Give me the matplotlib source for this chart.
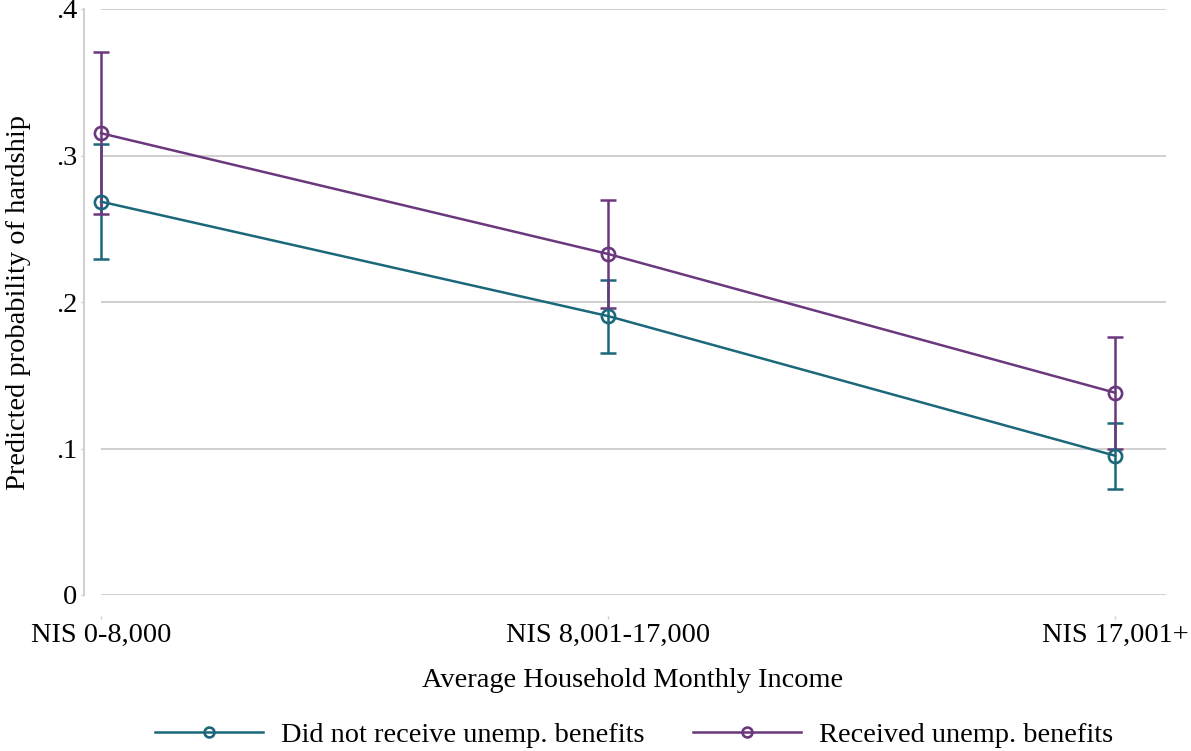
import matplotlib.pyplot as plt
import numpy as np

plt.rcParams["font.family"] = ["Liberation Serif", "DejaVu Serif"]

income_groups = ["NIS 0-8,000", "NIS 8,001-17,000", "NIS 17,001+"]
x = np.array([1, 2, 3])

# predicted probabilities with 95% CI bounds
no_benefit = np.array([0.2685, 0.1904, 0.0951])
no_benefit_lo = np.array([0.2292, 0.1652, 0.0722])
no_benefit_hi = np.array([0.3076, 0.2150, 0.1176])

benefit = np.array([0.3152, 0.2328, 0.1381])
benefit_lo = np.array([0.2600, 0.1957, 0.0998])
benefit_hi = np.array([0.3704, 0.2696, 0.1759])

yticks = [0, 0.1, 0.2, 0.3, 0.4]
ytick_labels = ["0", ".1", ".2", ".3", ".4"]

color_no = "#1b687a"
color_yes = "#6b387e"
grid_color = "#cccccc"
font_size = 20.4

fig = plt.figure(figsize=(11.91, 7.51), dpi=100)
ax = fig.add_axes([84 / 1191, 1 - 595 / 751, (1166 - 84) / 1191, (595 - 9) / 751])

ax.set_xlim(1 - 17 / 507, 3 + 51 / 507)
ax.set_ylim(0, 0.4)

# gridlines only span the data range on x
ax.hlines(yticks, 1, ax.get_xlim()[1], color=grid_color, lw=1.3, zorder=0)

for y, lo, hi, c in [(no_benefit, no_benefit_lo, no_benefit_hi, color_no),
                     (benefit, benefit_lo, benefit_hi, color_yes)]:
    ax.errorbar(x, y, yerr=[y - lo, hi - y], fmt="none", ecolor=c,
                elinewidth=1.8, capsize=5.6, capthick=1.8, zorder=2)

ax.plot(x, no_benefit, color=color_no, lw=1.8, marker="o", ms=9.5,
        mfc="none", mec=color_no, mew=1.9, zorder=3,
        label="Did not receive unemp. benefits")
ax.plot(x, benefit, color=color_yes, lw=1.8, marker="o", ms=9.5,
        mfc="none", mec=color_yes, mew=1.9, zorder=3,
        label="Received unemp. benefits")

ax.set_yticks(yticks)
ax.set_yticklabels(ytick_labels)
ax.set_xticks(x)
ax.set_xticklabels(income_groups)

for side in ["top", "right"]:
    ax.spines[side].set_visible(False)
ax.spines["left"].set_color(grid_color)
ax.spines["left"].set_linewidth(1.3)
ax.spines["bottom"].set_position(("outward", 15))
ax.spines["bottom"].set_color("none")

ax.tick_params("y", length=2, width=1, color=grid_color, pad=3,
               labelsize=font_size)
ax.tick_params("x", length=2, width=1, color=grid_color, pad=3,
               labelsize=font_size)

ax.set_xlabel("Average Household Monthly Income", fontsize=font_size)
ax.xaxis.set_label_coords((633 - 84) / (1166 - 84), -0.125)
ax.set_ylabel("Predicted probability of hardship", fontsize=font_size)
ax.yaxis.set_label_coords(-53 / (1166 - 84), 0.5)

fig.legend(loc="center", bbox_to_anchor=(634 / 1191, 1 - 735 / 751),
           ncol=2, frameon=False, fontsize=font_size, handlelength=3.8,
           handletextpad=0.64, columnspacing=1.73, markerscale=0.75)

fig.savefig("out.png", dpi=100)
plt.close("all")
